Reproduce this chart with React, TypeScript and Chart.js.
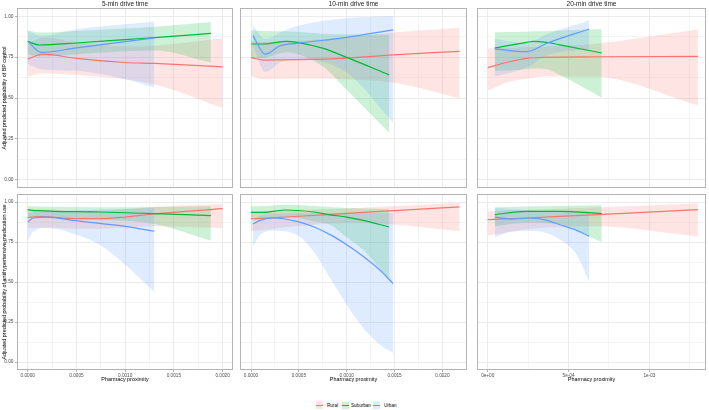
import React, { useEffect, useRef } from "react";
import { Chart, registerables } from "chart.js";

Chart.register(...registerables);

// ---------------- data ----------------
const seriesNames = ["Rural", "Suburban", "Urban"];
const lineColors = ["#F8766D", "#00BA38", "#619CFF"];
const bandColors = ["rgba(248,118,109,0.2)", "rgba(0,186,56,0.2)", "rgba(97,156,255,0.2)"];
const driveTimes = ["5-min drive time", "10-min drive time", "20-min drive time"];
const outcomeTitles = [
  "Adjusted predicted probability of BP control",
  "Adjusted predicted probability of antihypertensive medication use",
];
const xAxisTitle = "Pharmacy proximity";

const yTicks = [0, 0.25, 0.5, 0.75, 1];
const yTickLabels = ["0.00", "0.25", "0.50", "0.75", "1.00"];
const yRange = [-0.05, 1.05];

const xTicks5 = [0, 0.0005, 0.001, 0.0015, 0.002];
const xTickLabels5 = ["0.0000", "0.0005", "0.0010", "0.0015", "0.0020"];
const xRange5 = [-0.00011, 0.002107];
const xTicks10 = [0, 0.0005, 0.001, 0.0015, 0.002];
const xTickLabels10 = ["0.0000", "0.0005", "0.0010", "0.0015", "0.0020"];
const xRange10 = [-0.000115, 0.002257];
const xTicks20 = [0, 0.0005, 0.001];
const xTickLabels20 = ["0e+00", "5e-04", "1e-03"];
const xRange20 = [-0.0000663, 0.00135];

// BP control, 5-min
const bp5RuralX = [0, 0.00016, 0.0005, 0.001, 0.0013, 0.002];
const bp5RuralFit = [0.738, 0.768, 0.742, 0.717, 0.711, 0.69];
const bp5RuralLo = [0.631, 0.652, 0.64, 0.615, 0.584, 0.44];
const bp5RuralHi = [0.83, 0.87, 0.84, 0.815, 0.82, 0.865];
const bp5SuburbanX = [0, 0.00012, 0.0005, 0.001, 0.0013, 0.00188];
const bp5SuburbanFit = [0.846, 0.824, 0.836, 0.857, 0.869, 0.895];
const bp5SuburbanLo = [0.768, 0.755, 0.768, 0.785, 0.79, 0.717];
const bp5SuburbanHi = [0.912, 0.9, 0.91, 0.925, 0.936, 0.965];
const bp5UrbanX = [0, 0.00014, 0.0005, 0.001, 0.0013];
const bp5UrbanFit = [0.846, 0.779, 0.806, 0.844, 0.867];
const bp5UrbanLo = [0.707, 0.676, 0.666, 0.615, 0.564];
const bp5UrbanHi = [0.91, 0.88, 0.92, 0.95, 0.967];

// BP control, 10-min
const bp10RuralX = [0, 0.000132, 0.000479, 0.001, 0.001486, 0.00218];
const bp10RuralFit = [0.748, 0.732, 0.734, 0.744, 0.764, 0.785];
const bp10RuralLo = [0.635, 0.615, 0.619, 0.615, 0.594, 0.498];
const bp10RuralHi = [0.85, 0.84, 0.85, 0.87, 0.9, 0.928];
const bp10SuburbanX = [0, 0.000132, 0.000375, 0.000479, 0.000757, 0.001, 0.001444];
const bp10SuburbanFit = [0.83, 0.83, 0.846, 0.84, 0.803, 0.748, 0.641];
const bp10SuburbanLo = [0.74, 0.745, 0.78, 0.77, 0.69, 0.55, 0.287];
const bp10SuburbanHi = [0.912, 0.91, 0.908, 0.905, 0.893, 0.889, 0.887];
const bp10UrbanX = [0.0000208, 0.000149, 0.000306, 0.000479, 0.001, 0.001486];
const bp10UrbanFit = [0.881, 0.768, 0.82, 0.834, 0.871, 0.916];
const bp10UrbanLo = [0.82, 0.66, 0.717, 0.738, 0.656, 0.348];
const bp10UrbanHi = [0.943, 0.86, 0.9, 0.94, 0.988, 1.0];

// BP control, 20-min
const bp20RuralX = [0, 0.000116, 0.00024, 0.000343, 0.000653, 0.0013];
const bp20RuralFit = [0.686, 0.717, 0.742, 0.748, 0.752, 0.754];
const bp20RuralLo = [0.543, 0.594, 0.619, 0.632, 0.631, 0.455];
const bp20RuralHi = [0.803, 0.805, 0.81, 0.815, 0.83, 0.918];
const bp20SuburbanX = [0.0000434, 0.00024, 0.000281, 0.000364, 0.000446, 0.000705];
const bp20SuburbanFit = [0.805, 0.84, 0.846, 0.84, 0.825, 0.775];
const bp20SuburbanLo = [0.666, 0.675, 0.68, 0.675, 0.64, 0.502];
const bp20SuburbanHi = [0.902, 0.905, 0.908, 0.908, 0.912, 0.922];
const bp20UrbanX = [0.0000434, 0.00024, 0.000364, 0.000628];
const bp20UrbanFit = [0.8, 0.783, 0.834, 0.922];
const bp20UrbanLo = [0.631, 0.686, 0.76, 0.8];
const bp20UrbanHi = [0.86, 0.835, 0.89, 0.973];

// Medication use, 5-min
const med5RuralX = [0, 0.000123, 0.0005, 0.00074, 0.001, 0.0013, 0.002];
const med5RuralFit = [0.904, 0.908, 0.896, 0.896, 0.906, 0.925, 0.958];
const med5RuralLo = [0.8375, 0.84, 0.833, 0.833, 0.84, 0.848, 0.8375];
const med5RuralHi = [0.952, 0.955, 0.945, 0.945, 0.955, 0.97, 0.988];
const med5SuburbanX = [0, 0.000089, 0.00074, 0.0013, 0.00188];
const med5SuburbanFit = [0.952, 0.946, 0.9375, 0.927, 0.915];
const med5SuburbanLo = [0.91, 0.905, 0.89, 0.8625, 0.758];
const med5SuburbanHi = [0.973, 0.972, 0.967, 0.968, 0.973];
const med5UrbanX = [0, 0.000055, 0.00019, 0.0005, 0.00074, 0.001, 0.0013];
const med5UrbanFit = [0.875, 0.9, 0.905, 0.883, 0.866, 0.848, 0.817];
const med5UrbanLo = [0.754, 0.815, 0.8375, 0.796, 0.733, 0.608, 0.4375];
const med5UrbanHi = [0.93, 0.935, 0.94, 0.945, 0.952, 0.957, 0.9625];

// Medication use, 10-min
const med10RuralX = [0, 0.0005, 0.001, 0.0015, 0.00218];
const med10RuralFit = [0.894, 0.911, 0.929, 0.946, 0.969];
const med10RuralLo = [0.817, 0.85, 0.869, 0.86, 0.817];
const med10RuralHi = [0.942, 0.95, 0.96, 0.975, 0.994];
const med10SuburbanX = [0, 0.000132, 0.000358, 0.000653, 0.000826, 0.001, 0.001174, 0.001444];
const med10SuburbanFit = [0.935, 0.935, 0.95, 0.9375, 0.92, 0.906, 0.885, 0.844];
const med10SuburbanLo = [0.9, 0.9, 0.91, 0.88, 0.858, 0.78, 0.7, 0.515];
const med10SuburbanHi = [0.973, 0.975, 0.983, 0.975, 0.968, 0.9625, 0.96, 0.958];
const med10UrbanX = [0.0000208, 0.0000972, 0.000236, 0.000479, 0.000653, 0.000826, 0.001, 0.001174, 0.001347, 0.001486];
const med10UrbanFit = [0.8625, 0.885, 0.9, 0.879, 0.845, 0.796, 0.733, 0.66, 0.575, 0.49];
const med10UrbanLo = [0.723, 0.796, 0.821, 0.796, 0.692, 0.525, 0.358, 0.2125, 0.108, 0.056];
const med10UrbanHi = [0.89, 0.915, 0.925, 0.93, 0.931, 0.931, 0.931, 0.931, 0.931, 0.931];

// Medication use, 20-min
const med20RuralX = [0, 0.00024, 0.000653, 0.0013];
const med20RuralFit = [0.89, 0.9, 0.92, 0.952];
const med20RuralLo = [0.79, 0.83, 0.848, 0.785];
const med20RuralHi = [0.942, 0.95, 0.965, 0.99];
const med20SuburbanX = [0.0000434, 0.00024, 0.000446, 0.000705];
const med20SuburbanFit = [0.921, 0.942, 0.942, 0.927];
const med20SuburbanLo = [0.848, 0.87, 0.86, 0.75];
const med20SuburbanHi = [0.967, 0.972, 0.975, 0.979];
const med20UrbanX = [0.0000434, 0.000157, 0.00027, 0.000364, 0.000446, 0.00055, 0.000628];
const med20UrbanFit = [0.906, 0.894, 0.9, 0.885, 0.858, 0.823, 0.785];
const med20UrbanLo = [0.779, 0.815, 0.818, 0.806, 0.765, 0.67, 0.5];
const med20UrbanHi = [0.9625, 0.955, 0.945, 0.942, 0.94, 0.94, 0.94];

// ---------------- build ----------------
type Series = { x: number[]; fit: number[]; lo: number[]; hi: number[] };

const panelSeries: Series[][] = [
  [
    { x: bp5RuralX, fit: bp5RuralFit, lo: bp5RuralLo, hi: bp5RuralHi },
    { x: bp5SuburbanX, fit: bp5SuburbanFit, lo: bp5SuburbanLo, hi: bp5SuburbanHi },
    { x: bp5UrbanX, fit: bp5UrbanFit, lo: bp5UrbanLo, hi: bp5UrbanHi },
  ],
  [
    { x: bp10RuralX, fit: bp10RuralFit, lo: bp10RuralLo, hi: bp10RuralHi },
    { x: bp10SuburbanX, fit: bp10SuburbanFit, lo: bp10SuburbanLo, hi: bp10SuburbanHi },
    { x: bp10UrbanX, fit: bp10UrbanFit, lo: bp10UrbanLo, hi: bp10UrbanHi },
  ],
  [
    { x: bp20RuralX, fit: bp20RuralFit, lo: bp20RuralLo, hi: bp20RuralHi },
    { x: bp20SuburbanX, fit: bp20SuburbanFit, lo: bp20SuburbanLo, hi: bp20SuburbanHi },
    { x: bp20UrbanX, fit: bp20UrbanFit, lo: bp20UrbanLo, hi: bp20UrbanHi },
  ],
  [
    { x: med5RuralX, fit: med5RuralFit, lo: med5RuralLo, hi: med5RuralHi },
    { x: med5SuburbanX, fit: med5SuburbanFit, lo: med5SuburbanLo, hi: med5SuburbanHi },
    { x: med5UrbanX, fit: med5UrbanFit, lo: med5UrbanLo, hi: med5UrbanHi },
  ],
  [
    { x: med10RuralX, fit: med10RuralFit, lo: med10RuralLo, hi: med10RuralHi },
    { x: med10SuburbanX, fit: med10SuburbanFit, lo: med10SuburbanLo, hi: med10SuburbanHi },
    { x: med10UrbanX, fit: med10UrbanFit, lo: med10UrbanLo, hi: med10UrbanHi },
  ],
  [
    { x: med20RuralX, fit: med20RuralFit, lo: med20RuralLo, hi: med20RuralHi },
    { x: med20SuburbanX, fit: med20SuburbanFit, lo: med20SuburbanLo, hi: med20SuburbanHi },
    { x: med20UrbanX, fit: med20UrbanFit, lo: med20UrbanLo, hi: med20UrbanHi },
  ],
];

const colTicks = [xTicks5, xTicks10, xTicks20];
const colTickLabels = [xTickLabels5, xTickLabels10, xTickLabels20];
const colRanges = [xRange5, xRange10, xRange20];

// layout (pixels)
const colLeft = [17, 240, 477];
const colRight = [233, 467, 706];
const rowTop = [8, 194];
const rowBottom = [188, 370];

const FONT = "'Liberation Sans', Arial, Helvetica, sans-serif";

function withMinors(major: number[], range: number[]) {
  const out: number[] = [];
  const step = major[1] - major[0];
  for (let i = 0; i < major.length; i++) {
    out.push(major[i]);
    const m = major[i] + step / 2;
    if (m < range[1]) out.push(m);
  }
  const first = major[0] - step / 2;
  if (first > range[0]) out.unshift(first);
  return out;
}

function majorIndex(v: number, major: number[]) {
  for (let i = 0; i < major.length; i++) if (Math.abs(v - major[i]) < 1e-10) return i;
  return -1;
}

const borderPlugin = {
  id: "panelBorder",
  afterDraw(chart: any) {
    const { ctx, chartArea: a } = chart;
    ctx.save();
    ctx.strokeStyle = "#b3b3b3";
    ctx.lineWidth = 1;
    const l = Math.round(a.left) + 0.5;
    const t = Math.round(a.top) + 0.5;
    const r = Math.round(a.right) - 0.5;
    const b = Math.round(a.bottom) - 0.5;
    ctx.strokeRect(l, t, r - l, b - t);
    ctx.restore();
  },
};

function Panel({ row, col }: { row: number; col: number }) {
  const ref = useRef<HTMLCanvasElement>(null);
  const showY = col === 0;
  const showX = row === 1;
  const padL = showY ? 17 : 1;
  const padB = showX ? 10 : 1;
  const padT = 1;
  const padR = 1;
  const w = colRight[col] - colLeft[col];
  const h = rowBottom[row] - rowTop[row];
  const cw = w + padL + padR;
  const chh = h + padT + padB;

  useEffect(() => {
    const series = panelSeries[row * 3 + col];
    const xMajor = colTicks[col];
    const xLabels = colTickLabels[col];
    const xRange = colRanges[col];
    const xAll = withMinors(xMajor, xRange);
    const yAll = withMinors(yTicks, yRange);
    const datasets: any[] = [];
    // bands: urban first so rural is filled first (filler iterates in reverse)
    for (let k = 2; k >= 0; k--) {
      const s = series[k];
      datasets.push({
        label: seriesNames[k] + " lower",
        data: s.x.map((x, j) => ({ x, y: s.lo[j] })),
        borderWidth: 0,
        borderColor: "rgba(0,0,0,0)",
        pointRadius: 0,
        fill: false,
        cubicInterpolationMode: "monotone",
      });
      datasets.push({
        label: seriesNames[k] + " upper",
        data: s.x.map((x, j) => ({ x, y: s.hi[j] })),
        borderWidth: 0,
        borderColor: "rgba(0,0,0,0)",
        backgroundColor: bandColors[k],
        pointRadius: 0,
        fill: "-1",
        cubicInterpolationMode: "monotone",
      });
    }
    for (let k = 2; k >= 0; k--) {
      const s = series[k];
      datasets.push({
        label: seriesNames[k],
        data: s.x.map((x, j) => ({ x, y: s.fit[j] })),
        borderWidth: 1.2,
        borderColor: lineColors[k],
        pointRadius: 0,
        fill: false,
        cubicInterpolationMode: "monotone",
      });
    }

    const chart = new Chart(ref.current as HTMLCanvasElement, {
      type: "line",
      data: { datasets },
      plugins: [borderPlugin],
      options: {
        animation: false,
        responsive: false,
        maintainAspectRatio: false,
        events: [],
        layout: { padding: { left: showY ? 0 : padL, right: padR, top: padT, bottom: showX ? 0 : padB } },
        plugins: {
          legend: { display: false },
          tooltip: { enabled: false },
          filler: { drawTime: "beforeDatasetsDraw" },
        } as any,
        scales: {
          x: {
            type: "linear",
            min: xRange[0],
            max: xRange[1],
            afterBuildTicks: (s: any) => {
              s.ticks = xAll.map((v) => ({ value: v }));
            },
            afterFit: (s: any) => {
              s.height = showX ? padB : 0;
              s.paddingLeft = 0;
              s.paddingRight = 0;
            },
            ticks: {
              display: showX,
              autoSkip: false,
              maxRotation: 0,
              minRotation: 0,
              padding: 1,
              color: "#4d4d4d",
              font: { family: FONT, size: 4.7 },
              callback: (v: any) => {
                const i = majorIndex(Number(v), xMajor);
                return i >= 0 ? xLabels[i] : "";
              },
            },
            grid: {
              color: "#ebebeb",
              lineWidth: (c: any) => (c.tick && majorIndex(c.tick.value, xMajor) >= 0 ? 1 : 0.5),
              drawTicks: showX,
              tickLength: 2,
              tickColor: (c: any) =>
                c.tick && majorIndex(c.tick.value, xMajor) >= 0 ? "#b3b3b3" : "rgba(0,0,0,0)",
            },
            border: { display: false },
          } as any,
          y: {
            type: "linear",
            min: yRange[0],
            max: yRange[1],
            afterBuildTicks: (s: any) => {
              s.ticks = yAll.map((v) => ({ value: v }));
            },
            afterFit: (s: any) => {
              s.width = showY ? padL : 0;
              s.paddingTop = 0;
              s.paddingBottom = 0;
            },
            ticks: {
              display: showY,
              autoSkip: false,
              padding: 1.5,
              color: "#4d4d4d",
              font: { family: FONT, size: 4.8 },
              callback: (v: any) => {
                const i = majorIndex(Number(v), yTicks);
                return i >= 0 ? yTickLabels[i] : "";
              },
            },
            grid: {
              color: "#ebebeb",
              lineWidth: (c: any) => (c.tick && majorIndex(c.tick.value, yTicks) >= 0 ? 1 : 0.5),
              drawTicks: showY,
              tickLength: 2,
              tickColor: (c: any) =>
                c.tick && majorIndex(c.tick.value, yTicks) >= 0 ? "#b3b3b3" : "rgba(0,0,0,0)",
            },
            border: { display: false },
          } as any,
        },
      },
    });
    return () => chart.destroy();
  }, []);

  return (
    <canvas
      ref={ref}
      width={cw}
      height={chh}
      style={{
        position: "absolute",
        left: colLeft[col] - padL,
        top: rowTop[row] - padT,
        width: cw,
        height: chh,
      }}
    />
  );
}

export default function App() {
  const legendKeys = [316, 342, 373];
  const legendTexts = [327, 351, 384];
  return (
    <div
      style={{
        position: "fixed",
        left: 0,
        top: 0,
        width: 709,
        height: 410,
        background: "#ffffff",
        fontFamily: FONT,
        overflow: "hidden",
      }}
    >
      {[0, 1].map((r) =>
        [0, 1, 2].map((c) => <Panel key={`${r}-${c}`} row={r} col={c} />)
      )}
      {driveTimes.map((t, c) => (
        <div
          key={t}
          style={{
            position: "absolute",
            left: (colLeft[c] + colRight[c]) / 2,
            top: 4,
            transform: "translate(-50%, -50%)",
            fontSize: 6.5,
            color: "#1a1a1a",
            whiteSpace: "nowrap",
            lineHeight: 1,
          }}
        >
          {t}
        </div>
      ))}
      {outcomeTitles.map((t, r) => (
        <div
          key={t}
          style={{
            position: "absolute",
            left: 5,
            top: (rowTop[r] + rowBottom[r]) / 2,
            transform: "translate(-50%, -50%) rotate(-90deg)",
            fontSize: 5.4,
            color: "#000000",
            whiteSpace: "nowrap",
            lineHeight: 1,
          }}
        >
          {t}
        </div>
      ))}
      {[0, 1, 2].map((c) => (
        <div
          key={"xt" + c}
          style={{
            position: "absolute",
            left: (colLeft[c] + colRight[c]) / 2,
            top: 380,
            transform: "translate(-50%, -50%)",
            fontSize: 5.4,
            color: "#000000",
            whiteSpace: "nowrap",
            lineHeight: 1,
          }}
        >
          {xAxisTitle}
        </div>
      ))}
      {seriesNames.map((n, k) => (
        <React.Fragment key={n}>
          <div
            style={{
              position: "absolute",
              left: legendKeys[k],
              top: 402,
              width: 7,
              height: 7,
              background: bandColors[k],
            }}
          >
            <div
              style={{
                position: "absolute",
                left: 0,
                top: 3,
                width: 7,
                height: 1,
                background: lineColors[k],
              }}
            />
          </div>
          <div
            style={{
              position: "absolute",
              left: legendTexts[k],
              top: 405.5,
              transform: "translateY(-50%)",
              fontSize: 4.6,
              color: "#000000",
              whiteSpace: "nowrap",
              lineHeight: 1,
            }}
          >
            {n}
          </div>
        </React.Fragment>
      ))}
    </div>
  );
}
